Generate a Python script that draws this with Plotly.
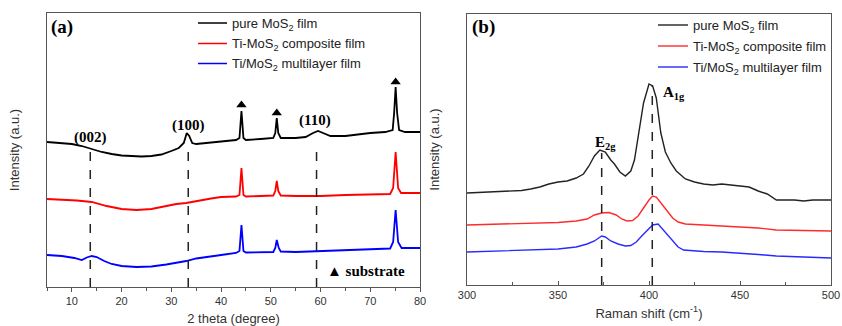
import plotly.graph_objects as go

# ---------------- data: XRD (panel a) ----------------
xrd_pure_x = [5, 7, 10, 12, 14, 16, 18, 20, 22, 24, 26, 28, 30, 31.5, 32.5, 33.1, 33.6, 34.2, 35, 37, 40, 43,
              43.7, 44.1, 44.5, 45, 48, 50.5, 50.9, 51.2, 51.5, 52, 55, 57, 58.5, 59.5, 60.5, 62, 65, 68, 70,
              73, 74.5, 74.8, 75.1, 75.4, 75.8, 77, 80]
xrd_pure_y = [146, 145.5, 144, 142, 139, 136, 134, 132.5, 132, 131.5, 132, 133.5, 137, 140, 145, 155, 152, 145, 144,
              145, 147, 148, 150, 177, 150, 148, 149, 150, 155, 170, 155, 150, 150, 151, 155, 157, 155, 152, 152,
              154, 155, 156, 158, 175, 201, 175, 158, 156, 156]

xrd_comp_x = [5, 8, 11, 14, 17, 20, 23, 26, 29, 31, 33, 35, 38, 40, 43, 43.7, 44.1, 44.5, 45, 48, 50.5, 50.9,
              51.2, 51.5, 52, 55, 60, 65, 70, 74, 74.6, 75.1, 75.6, 76.2, 80]
xrd_comp_y = [89, 88.5, 87.5, 86, 82, 79, 78, 79, 82, 84, 85, 87, 89.5, 91, 91.5, 93, 120, 93, 91.5, 92, 92.5, 97,
              107, 97, 92.5, 92, 92, 93, 93.5, 94, 100, 136, 100, 95, 95]

xrd_multi_x = [5, 8, 10.5, 12, 13, 14, 15, 16.5, 18, 20, 23, 26, 29, 31, 33, 35, 38, 40, 43, 43.7, 44.1, 44.5, 45,
               48, 50.5, 50.9, 51.2, 51.6, 52, 55, 60, 65, 70, 74, 74.6, 75.1, 75.6, 76.3, 80]
xrd_multi_y = [33, 32, 30, 28, 30.5, 32, 31, 27, 24, 22, 21, 21.5, 23.5, 25, 27, 29.5, 32, 33, 35, 37, 63, 37, 35.5,
               36, 36, 40, 48, 40, 36.5, 36, 37, 38, 39, 39.5, 46, 78, 46, 40, 40]

xrd_peak_labels = ["(002)", "(100)", "(110)"]
xrd_peak_x = [13.7, 33.4, 59.2]
xrd_peak_line_top = [138, 140, 142]
xrd_label_x = [13.8, 33.4, 58.9]
xrd_label_y = [150.5, 163, 168]

substrate_x = [44.1, 51.2, 75.1]
substrate_y = [183, 175, 206]

xrd_ticks = [10, 20, 30, 40, 50, 60, 70, 80]

# ---------------- data: Raman (panel b) ----------------
ram_pure_x = [300, 310, 320, 330, 335, 340, 345, 350, 355, 360, 364, 367, 370, 373, 376, 379, 381, 384, 387, 390,
              392, 394, 397, 400, 402, 404, 406.5, 409, 412, 415, 418, 420, 425, 430, 435, 440, 445, 450, 455,
              460, 465, 470, 475, 480, 485, 490, 500]
ram_pure_y = [95, 96, 97, 97.5, 99, 101, 104, 106, 107, 110, 114, 122, 132, 138, 136, 128, 124, 116, 112, 117,
              128, 152, 185, 204, 202, 190, 155, 136, 125, 117, 112, 109, 106, 104, 103, 104, 103, 102, 101,
              97, 94, 88, 88, 88, 87, 88, 88]

ram_comp_x = [300, 310, 320, 330, 340, 350, 360, 366, 370, 374, 378, 382, 385, 388, 391, 394, 397, 400, 402, 404,
              407, 410, 413, 416, 420, 430, 440, 450, 460, 470, 480, 490, 500]
ram_comp_y = [63, 63.5, 64, 64.5, 65, 65.5, 67, 69, 73, 75, 75.5, 73, 69, 67, 67.5, 72, 80, 88, 92, 91,
              84, 77, 70, 66, 64, 63, 62, 61.5, 60, 58, 57.5, 57.5, 57]

ram_multi_x = [300, 310, 320, 330, 340, 350, 360, 366, 370, 374, 376, 379, 383, 387, 390, 393, 396, 399, 402, 405,
               407, 410, 413, 416, 419, 425, 430, 440, 450, 460, 470, 480, 490, 500]
ram_multi_y = [36, 36.5, 37, 38, 38.5, 39, 41, 44, 47, 52, 51, 47, 44, 42, 42.5, 46, 52, 58, 63, 64,
               60, 54, 47, 41, 38, 37, 36.5, 36, 35, 33.5, 32, 31.5, 30.5, 30]

ram_peak_labels = ["E<sub>2g</sub>", "A<sub>1g</sub>"]
ram_peak_x = [374, 401.8]
ram_peak_line_top = [135, 203]
ram_label_x = [376, 413.5]
ram_label_y = [145, 195]

ram_ticks = [300, 350, 400, 450, 500]

series_names = ["pure MoS<sub>2</sub> film", "Ti-MoS<sub>2</sub> composite film", "Ti/MoS<sub>2</sub> multilayer film"]
xrd_colors = ["#000000", "#ff0000", "#0000ff"]
ram_colors = ["#222222", "#ff2a2a", "#2a2aff"]

# ---------------- figure ----------------
W, H = 842, 326
fig = go.Figure()

xrd_series = [(xrd_pure_x, xrd_pure_y), (xrd_comp_x, xrd_comp_y), (xrd_multi_x, xrd_multi_y)]
for (xs, ys), name, col in zip(xrd_series, series_names, xrd_colors):
    fig.add_trace(go.Scatter(x=xs, y=ys, mode="lines", name=name, line=dict(color=col, width=1.8),
                             xaxis="x", yaxis="y", showlegend=False))

ram_series = [(ram_pure_x, ram_pure_y), (ram_comp_x, ram_comp_y), (ram_multi_x, ram_multi_y)]
for (xs, ys), name, col in zip(ram_series, series_names, ram_colors):
    fig.add_trace(go.Scatter(x=xs, y=ys, mode="lines", name=name, line=dict(color=col, width=1.4),
                             xaxis="x2", yaxis="y2", showlegend=False))

# dashed reference lines
for px, top in zip(xrd_peak_x, xrd_peak_line_top):
    fig.add_trace(go.Scatter(x=[px, px], y=[1, top], mode="lines", showlegend=False,
                             line=dict(color="#222", width=1.5, dash="dash"), xaxis="x", yaxis="y"))
for px, top in zip(ram_peak_x, ram_peak_line_top):
    fig.add_trace(go.Scatter(x=[px, px], y=[3, top], mode="lines", showlegend=False,
                             line=dict(color="#222", width=1.5, dash="dash"), xaxis="x2", yaxis="y2"))

# substrate triangles
fig.add_trace(go.Scatter(x=substrate_x, y=substrate_y, mode="markers", showlegend=False,
                         marker=dict(symbol="triangle-up", size=9, color="#000"), xaxis="x", yaxis="y"))

serif_bold = dict(family="Liberation Serif", size=15, color="#000")
ann = []
shapes = []
for t, lx, ly in zip(xrd_peak_labels, xrd_label_x, xrd_label_y):
    ann.append(dict(text="<b>%s</b>" % t, x=lx, y=ly, xref="x", yref="y", showarrow=False, font=serif_bold))
for t, lx, ly in zip(ram_peak_labels, ram_label_x, ram_label_y):
    ann.append(dict(text="<b>%s</b>" % t, x=lx, y=ly, xref="x2", yref="y2", showarrow=False, font=serif_bold))
ann.append(dict(text="<b>▲ substrate</b>", x=60.9, y=17, xref="x", yref="y", xanchor="left", showarrow=False,
                font=dict(family="Liberation Serif", size=15, color="#000")))
ann.append(dict(text="<b>(a)</b>", x=49 / W, y=1 - 27 / H, xref="paper", yref="paper", xanchor="left",
                yanchor="middle", showarrow=False, font=dict(family="Liberation Serif", size=19, color="#000")))
ann.append(dict(text="<b>(b)</b>", x=470 / W, y=1 - 27 / H, xref="paper", yref="paper", xanchor="left",
                yanchor="middle", showarrow=False, font=dict(family="Liberation Serif", size=19, color="#000")))

# manual legends (line sample + label) for each panel
legend_font = dict(family="Liberation Sans", size=13, color="#222")
legend_specs = [
    (198, 227, 230, [23, 43.5, 63.5], xrd_colors, 1.5),
    (658, 688, 691, [25, 46, 67], ram_colors, 1.4),
]
for lx0, lx1, tx, rows, cols, lw in legend_specs:
    for name, col, ry in zip(series_names, cols, rows):
        shapes.append(dict(type="line", xref="paper", yref="paper", x0=lx0 / W, x1=lx1 / W,
                           y0=1 - ry / H, y1=1 - ry / H, line=dict(color=col, width=lw)))
        ann.append(dict(text=name, x=tx / W, y=1 - (ry + 1.5) / H, xref="paper", yref="paper", xanchor="left",
                        yanchor="middle", showarrow=False, font=legend_font))

axis_common = dict(showline=True, linecolor="#555", linewidth=1.3, mirror=True, showgrid=False, zeroline=False,
                   automargin=False)
tickfont = dict(family="Liberation Sans", size=11, color="#333")
titlefont = dict(family="Liberation Sans", size=13, color="#333")

fig.update_layout(
    width=W, height=H, margin=dict(l=0, r=0, t=0, b=0, autoexpand=False),
    paper_bgcolor="white", plot_bgcolor="white", showlegend=False,
    xaxis=dict(domain=[47 / W, 420 / W], range=[5, 80], tickvals=xrd_ticks, ticks="outside", ticklen=4,
               tickcolor="#555", tickfont=tickfont, anchor="y",
               minor=dict(ticks="outside", dtick=5, tick0=5, ticklen=2.5, tickcolor="#555"),
               title=dict(text="2 theta (degree)", font=titlefont, standoff=7), **axis_common),
    yaxis=dict(domain=[1 - 287 / H, 1 - 13 / H], range=[1, 275], showticklabels=False, ticks="", anchor="x",
               title=dict(text="Intensity (a.u.)", font=titlefont, standoff=23), **axis_common),
    xaxis2=dict(domain=[467 / W, 831 / W], range=[300, 500], tickvals=ram_ticks, ticks="inside", ticklen=4,
                tickcolor="#555", tickfont=tickfont, anchor="y2",
                minor=dict(ticks="inside", dtick=25, tick0=300, ticklen=2.5, tickcolor="#555"),
                title=dict(text="Raman shift (cm<sup>-1</sup>)", font=titlefont, standoff=8), **axis_common),
    yaxis2=dict(domain=[1 - 285 / H, 1 - 14 / H], range=[3, 274], showticklabels=False, ticks="", anchor="x2",
                title=dict(text="Intensity (a.u.)", font=titlefont, standoff=23), **axis_common),
    annotations=ann,
    shapes=shapes,
)

fig.write_html("out.html")
